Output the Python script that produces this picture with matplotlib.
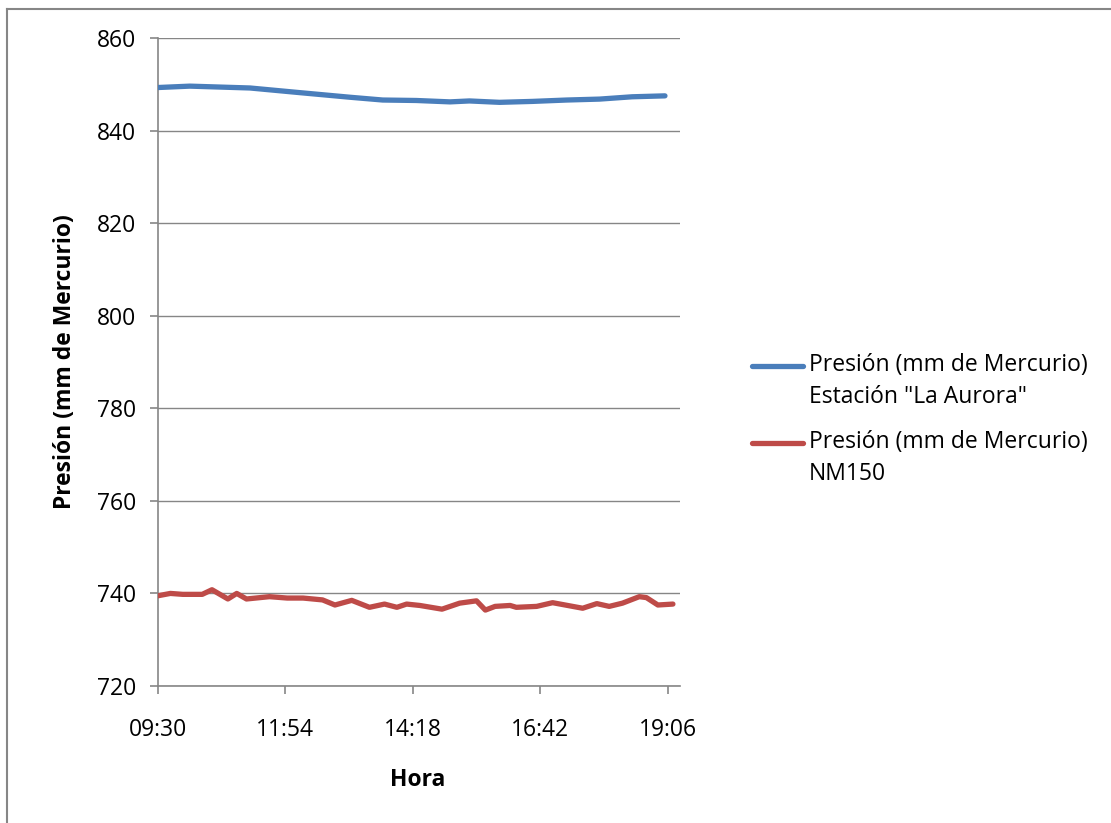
"""
Presión barométrica durante el día: estación "La Aurora" vs. sensor NM150
"""
import numpy as np
import matplotlib
matplotlib.use('Agg')
import matplotlib.pyplot as plt
from matplotlib.lines import Line2D
from matplotlib.ticker import FixedLocator, FuncFormatter

plt.rcParams['font.family'] = ['Open Sans', 'DejaVu Sans']

# Estación "La Aurora"
hora_aurora = ['09:30', '10:06', '11:14', '12:10', '13:07', '13:44', '14:22', '15:00',
               '15:22', '15:56', '16:33', '17:12', '17:49', '18:26', '19:03']
presion_aurora = [849.3, 849.6, 849.2, 848.2, 847.2, 846.6, 846.5, 846.2,
                  846.4, 846.1, 846.3, 846.6, 846.8, 847.3, 847.5]

# Sensor NM150
hora_nm150 = ['09:30', '09:44', '09:58', '10:20', '10:31', '10:49', '10:59', '11:10',
              '11:36', '11:56', '12:14', '12:36', '12:50', '13:09', '13:29', '13:46',
              '14:00', '14:11', '14:26', '14:51', '15:11', '15:30', '15:40', '15:51',
              '16:08', '16:15', '16:38', '16:56', '17:30', '17:46', '18:00', '18:15',
              '18:34', '18:42', '18:55', '19:12']
presion_nm150 = [739.5, 740.0, 739.8, 739.8, 740.8, 738.8, 740.0, 738.8,
                 739.3, 739.0, 739.0, 738.6, 737.5, 738.5, 737.0, 737.7,
                 737.0, 737.7, 737.4, 736.6, 737.9, 738.4, 736.4, 737.2,
                 737.4, 737.0, 737.2, 738.0, 736.8, 737.8, 737.2, 737.9,
                 739.3, 739.1, 737.5, 737.7]

ticks_hora = ['09:30', '11:54', '14:18', '16:42', '19:06']
ticks_presion = [720, 740, 760, 780, 800, 820, 840, 860]


def a_minutos(horas):
    return np.array([int(h[:2]) * 60 + int(h[3:]) for h in horas])


def fmt_hora(x, pos):
    x = int(round(x))
    return f"{x // 60:02d}:{x % 60:02d}"


W, H = 1111, 823
fs = 16.5
fig = plt.figure(figsize=(W / 100, H / 100), dpi=100)
ax = fig.add_axes([158 / W, 1 - 686 / H, (680 - 158) / W, (686 - 38) / H])

gris = '#868686'
ax.plot(a_minutos(hora_aurora), presion_aurora, color='#4a7ebb', lw=3.8,
        solid_capstyle='round', solid_joinstyle='round', zorder=3)
ax.plot(a_minutos(hora_nm150), presion_nm150, color='#be4b48', lw=3.8,
        solid_capstyle='round', solid_joinstyle='round', zorder=3)

ax.set_xlim(570, 1160)
ax.set_ylim(720, 860)
ax.xaxis.set_major_locator(FixedLocator(a_minutos(ticks_hora)))
ax.xaxis.set_major_formatter(FuncFormatter(fmt_hora))
ax.set_yticks(ticks_presion)
ax.grid(axis='y', color=gris, lw=1.0)
ax.set_axisbelow(True)

for lado in ['top', 'right']:
    ax.spines[lado].set_visible(False)
for lado in ['left', 'bottom']:
    ax.spines[lado].set_color(gris)
    ax.spines[lado].set_linewidth(1.2)
ax.tick_params(axis='both', color=gris, width=1.2, length=6, labelsize=fs,
               labelcolor='black')
ax.tick_params(axis='x', pad=17)
ax.tick_params(axis='y', pad=10)

ax.set_xlabel('Hora', fontsize=fs, fontweight='bold', va='center')
ax.set_ylabel('Presión (mm de Mercurio)', fontsize=fs, fontweight='bold', va='center')
ax.xaxis.set_label_coords((418 - 158) / 522, (686 - 780) / 648)
ax.yaxis.set_label_coords((65 - 158) / 522, 0.5)

# leyenda dibujada a mano (la línea alineada con el primer renglón)
leyenda = [('#4a7ebb', 'Presión (mm de Mercurio)', 'Estación "La Aurora"', 366),
           ('#be4b48', 'Presión (mm de Mercurio)', 'NM150', 443)]
for color, l1, l2, y in leyenda:
    fig.add_artist(Line2D([752 / W, 803 / W], [1 - y / H] * 2, color=color, lw=3.8,
                          solid_capstyle='round'))
    fig.text(809 / W, 1 - (y - 1) / H, l1, fontsize=fs, va='center')
    fig.text(809 / W, 1 - (y + 31) / H, l2, fontsize=fs, va='center')

# marco del área del gráfico
fig.add_artist(Line2D([7 / W, 7 / W], [0, 1 - 9 / H], color=gris, lw=1.5))
fig.add_artist(Line2D([7 / W, 1], [1 - 9 / H] * 2, color=gris, lw=1.5))

fig.savefig('out.png', dpi=100)
